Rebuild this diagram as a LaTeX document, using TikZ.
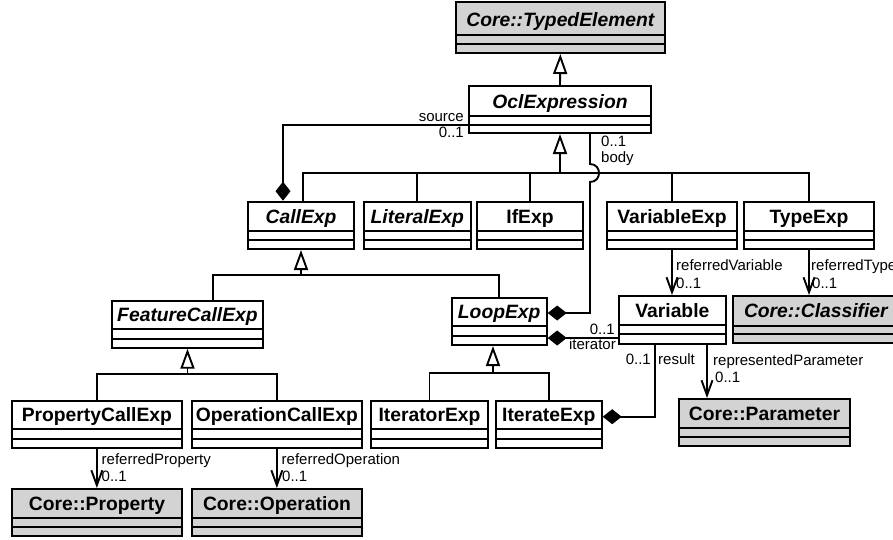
\documentclass[tikz,border=0pt]{standalone}
\usepackage{fontspec}
\setmainfont{Liberation Sans}
\usetikzlibrary{arrows.meta,fit}
\definecolor{umlgray}{RGB}{211,211,211}
\newcommand\umlclass[9]{%
  \path (#3,#4) coordinate (#1-nw) (#5,#6) coordinate (#1-se);
  \node[clsbox,#2,fit=(#1-nw)(#1-se)] (#1) {};
  \draw[clsline] (#3,#7) -- (#5,#7) (#3,#8) -- (#5,#8);
  \node[clstitle] (#1-title) at ({(#3+#5)/2},{#4+0.74*(#7-#4)}) {#9};
}
\begin{document}
\begin{tikzpicture}[x=1pt,y=-1pt,
  clsbox/.style={draw, line width=2pt, inner sep=0pt, fill=white},
  core/.style={fill=umlgray},
  plain/.style={},
  clsline/.style={line width=2pt},
  clstitle/.style={anchor=base, inner sep=0pt, font=\fontsize{19.3}{22}\selectfont\bfseries},
  conn/.style={line width=1.9pt},
  genarrow/.style={conn, -{Triangle[open, length=20pt, width=14pt]}},
  comparrow/.style={conn, {Diamond[length=19pt, width=15pt]}-},
  navarrow/.style={conn, -{Straight Barb[length=15pt, width=11pt]}},
  lbl/.style={inner sep=0pt, font=\fontsize{15}{18}\selectfont}
]
\useasboundingbox (0,0) rectangle (893,539);

\umlclass{TypedElement}{core}{455.7}{2}{665}{53}{35}{43.5}{\itshape Core::TypedElement}
\umlclass{OclExpression}{plain}{469}{86}{651}{133}{116}{124.5}{\itshape OclExpression}
\umlclass{CallExp}{plain}{248}{201.7}{354}{249}{231}{240}{\itshape CallExp}
\umlclass{LiteralExp}{plain}{364}{201.7}{470.7}{249}{231}{240}{\itshape LiteralExp}
\umlclass{IfExp}{plain}{477}{201.7}{583}{249}{231}{240}{IfExp}
\umlclass{VariableExp}{plain}{607}{201.7}{737}{249}{231}{240}{VariableExp}
\umlclass{TypeExp}{plain}{744}{201.7}{874}{249}{231}{240}{TypeExp}
\umlclass{FeatureCallExp}{plain}{112}{301}{263}{347.7}{329}{339}{\itshape FeatureCallExp}
\umlclass{LoopExp}{plain}{451.7}{297.7}{546.7}{345}{326}{336}{\itshape LoopExp}
\umlclass{Variable}{plain}{619}{296}{725.7}{344}{325}{334}{Variable}
\umlclass{Classifier}{core}{732.7}{296}{899}{342.7}{325.7}{334.3}{\itshape Core::Classifier}
\umlclass{PropertyCallExp}{plain}{11.7}{400.7}{182}{447.7}{429}{439}{PropertyCallExp}
\umlclass{OperationCallExp}{plain}{191.7}{400.7}{362}{447.7}{429}{439}{OperationCallExp}
\umlclass{IteratorExp}{plain}{371}{400.7}{488}{447.7}{429}{439}{IteratorExp}
\umlclass{IterateExp}{plain}{496}{400.7}{601.7}{447.7}{429}{439}{IterateExp}
\umlclass{Parameter}{core}{679}{399}{850}{445.7}{428}{436.7}{Core::Parameter}
\umlclass{Property}{core}{12}{489}{182}{536}{518}{527}{Core::Property}
\umlclass{Operation}{core}{192}{489}{362}{536}{518}{527}{Core::Operation}

% generalizations
\coordinate (busA) at (560,173);
\coordinate (busB) at (301,275);
\coordinate (busC) at (187.5,374);
\coordinate (busD) at (493,372.7);
\draw[genarrow] (OclExpression.north) -- (TypedElement.south);
\draw[genarrow] (busA) -- (OclExpression.south);
\draw[conn] (CallExp.north -| 303,0) |- (busA) -| (TypeExp.north);
\draw[conn] (LiteralExp.north) -- (LiteralExp.north |- busA);
\draw[conn] (IfExp.north) -- (IfExp.north |- busA);
\draw[conn] (VariableExp.north) -- (VariableExp.north |- busA);
\draw[genarrow] (busB) -- (CallExp.south -| busB);
\draw[conn] (FeatureCallExp.north -| 213,0) |- (busB) -| (LoopExp.north);
\draw[genarrow] (busC) -- (FeatureCallExp.south -| busC);
\draw[conn] (PropertyCallExp.north) |- (busC) -| (OperationCallExp.north);
\draw[genarrow] (busD) -- (LoopExp.south -| busD);
\draw[conn] (IteratorExp.north) |- (busD) -| (IterateExp.north);

% compositions
\draw[comparrow] (CallExp.north -| 283,0) |- (OclExpression.west |- 0,125);
\draw[comparrow] (LoopExp.east |- 0,313) -- (590,313) -- (590,182)
  .. controls (602,182) and (602,164) .. (590,164) -- (OclExpression.south -| 590,0);
\draw[comparrow] (LoopExp.east |- 0,338) -- (Variable.west |- 0,338);
\draw[comparrow] (IterateExp.east |- 0,416.7) -| (Variable.south -| 655,0);

% navigable associations
\draw[navarrow] (VariableExp.south) -- (Variable.north -| VariableExp.south);
\draw[navarrow] (TypeExp.south) -- (Classifier.north -| TypeExp.south);
\draw[navarrow] (Variable.south -| 707,0) -- (Parameter.north -| 707,0);
\draw[navarrow] (PropertyCallExp.south) -- (Property.north -| PropertyCallExp.south);
\draw[navarrow] (OperationCallExp.south) -- (Operation.north -| OperationCallExp.south);

% labels
\node[lbl, anchor=base east] (lSource) at (464,121.5) {source};
\node[lbl, anchor=base east] (lSourceM) at (464,137) {0..1};
\node[lbl, anchor=base west] (lBodyM) at (601,146.7) {0..1};
\node[lbl, anchor=base west] (lBody) at (601,162) {body};
\node[lbl, anchor=base west] (lRefVar) at (676,270) {referredVariable};
\node[lbl, anchor=base west] (lRefVarM) at (676,288) {0..1};
\node[lbl, anchor=base west] (lRefType) at (811,270) {referredType};
\node[lbl, anchor=base west] (lRefTypeM) at (812,288) {0..1};
\node[lbl, anchor=base east] (lIterM) at (615,334) {0..1};
\node[lbl, anchor=base east] (lIter) at (616,349.5) {iterator};
\node[lbl, anchor=base east] (lResM) at (651,364) {0..1};
\node[lbl, anchor=base west] (lRes) at (658,364) {result};
\node[lbl, anchor=base west] (lRepPar) at (713,365.5) {representedParameter};
\node[lbl, anchor=base west] (lRepParM) at (715,382.5) {0..1};
\node[lbl, anchor=base west] (lRefProp) at (101.5,464) {referredProperty};
\node[lbl, anchor=base west] (lRefPropM) at (101.5,481.5) {0..1};
\node[lbl, anchor=base west] (lRefOp) at (281.5,464) {referredOperation};
\node[lbl, anchor=base west] (lRefOpM) at (282,481.5) {0..1};
\end{tikzpicture}
\end{document}
